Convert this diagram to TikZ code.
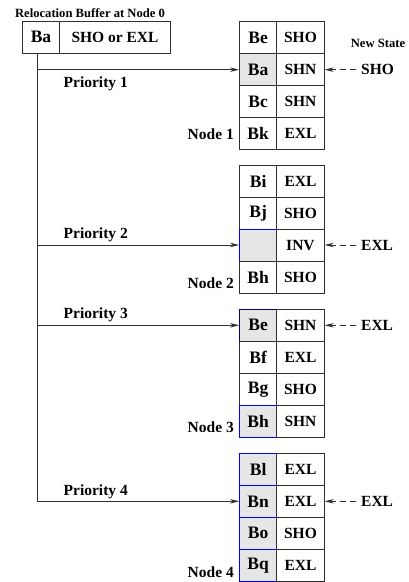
\documentclass[tikz,border=0pt]{standalone}
\usepackage{fontspec}
\setmainfont{Liberation Serif}
\usetikzlibrary{arrows.meta}
\definecolor{cellgray}{HTML}{E6E6E6}
\definecolor{linegray}{HTML}{303030}
\begin{document}
\begin{tikzpicture}[x=1pt,y=-1pt,
  every node/.style={font=\bfseries},
  blk/.style={draw=linegray,line width=0.9pt,minimum width=37.2pt,minimum height=32pt,inner sep=0pt,
              font=\fontsize{17.5}{18}\selectfont\bfseries},
  st/.style={draw=linegray,line width=0.9pt,minimum width=47.5pt,minimum height=32pt,inner sep=0pt,
             font=\fontsize{15.5}{16}\selectfont\bfseries,text depth=0pt},
  shaded/.style={fill=cellgray},
  marked/.style={fill=cellgray,draw=blue},
  markednavy/.style={fill=cellgray,draw=blue!45!black},
  lbl/.style={font=\fontsize{15.5}{16}\selectfont\bfseries,inner sep=0pt},
  small/.style={font=\fontsize{12.6}{13}\selectfont\bfseries,inner sep=0pt},
  feed/.style={line width=0.9pt,draw=linegray,-{Stealth[length=9pt,width=4.5pt]}},
  update/.style={line width=0.9pt,draw=linegray,dash pattern=on 6pt off 4pt,-{Stealth[length=9pt,width=4.5pt]}}
]
\useasboundingbox (0,0) rectangle (408,582);

% relocation buffer at node 0
\node[small] (title) at (90,13) {Relocation Buffer at Node 0};
\node[blk,minimum width=36.6pt] (buf) at (41,37) {Ba};
\node[st,minimum width=111.4pt] (bufst) at (115,37) {SHO or EXL};
\coordinate (trunk) at (37.7,53);

% node 1
\node[blk] (a1) at (258.1,37.7) {Be};   \node[st] (s1a) at (300.45,37.7) {SHO};
\node[blk,shaded] (b1) at (258.1,69.7) {Ba}; \node[st] (s1b) at (300.45,69.7) {SHN};
\node[blk] (c1) at (258.1,101.7) {Bc};  \node[st] (s1c) at (300.45,101.7) {SHN};
\node[blk] (d1) at (258.1,133.7) {Bk};  \node[st] (s1d) at (300.45,133.7) {EXL};

% node 2
\node[blk] (a2) at (258.1,181) {Bi};    \node[st] (s2a) at (300.45,181) {EXL};
\node[blk] (b2) at (258.1,213) {Bj};    \node[st] (s2b) at (300.45,213) {SHO};
\node[blk,marked] (c2) at (258.1,245) {}; \node[st] (s2c) at (300.45,245) {INV};
\node[blk] (d2) at (258.1,277) {Bh};    \node[st] (s2d) at (300.45,277) {SHO};

% node 3
\node[blk,markednavy] (a3) at (258.1,325.3) {Be}; \node[st] (s3a) at (300.45,325.3) {SHN};
\node[blk] (b3) at (258.1,357.3) {Bf};  \node[st] (s3b) at (300.45,357.3) {EXL};
\node[blk] (c3) at (258.1,389.3) {Bg};  \node[st] (s3c) at (300.45,389.3) {SHO};
\node[blk,marked] (d3) at (258.1,421.3) {Bh}; \node[st] (s3d) at (300.45,421.3) {SHN};

% node 4
\node[blk,marked] (a4) at (258.1,469.3) {Bl}; \node[st] (s4a) at (300.45,469.3) {EXL};
\node[blk,marked] (b4) at (258.1,501.3) {Bn}; \node[st] (s4b) at (300.45,501.3) {EXL};
\node[blk,marked] (c4) at (258.1,533.3) {Bo}; \node[st] (s4c) at (300.45,533.3) {SHO};
\node[blk,marked] (d4) at (258.1,565.3) {Bq}; \node[st] (s4d) at (300.45,565.3) {EXL};

% node labels
\node[lbl,anchor=east] (n1) at (234,134) {Node 1};
\node[lbl,anchor=east] (n2) at (234,283.3) {Node 2};
\node[lbl,anchor=east] (n3) at (234,426.7) {Node 3};
\node[lbl,anchor=east] (n4) at (234,571.7) {Node 4};

% priority branches from the buffer
\draw[feed] (trunk) |- (b4.west);
\draw[feed] (b1.west -| trunk) -- (b1.west);
\draw[feed] (c2.west -| trunk) -- (c2.west);
\draw[feed] (a3.west -| trunk) -- (a3.west);
\node[lbl,anchor=west] (p1) at (63.5,84) {Priority 1};
\node[lbl,anchor=west] (p2) at (63.5,234.5) {Priority 2};
\node[lbl,anchor=west] (p3) at (63.5,315) {Priority 3};
\node[lbl,anchor=west] (p4) at (63.5,491.7) {Priority 4};

% new states
\node[small] (ns) at (378,43) {New State};
\node[lbl,anchor=west] (ns1) at (361,69.7) {SHO};
\node[lbl,anchor=west] (ns2) at (361,245) {EXL};
\node[lbl,anchor=west] (ns3) at (361,325.3) {EXL};
\node[lbl,anchor=west] (ns4) at (361,501.3) {EXL};
\draw[update] (ns1.west) ++(-5pt,0) -- (s1b.east);
\draw[update] (ns2.west) ++(-5pt,0) -- (s2c.east);
\draw[update] (ns3.west) ++(-5pt,0) -- (s3a.east);
\draw[update] (ns4.west) ++(-5pt,0) -- (s4b.east);
\end{tikzpicture}
\end{document}
